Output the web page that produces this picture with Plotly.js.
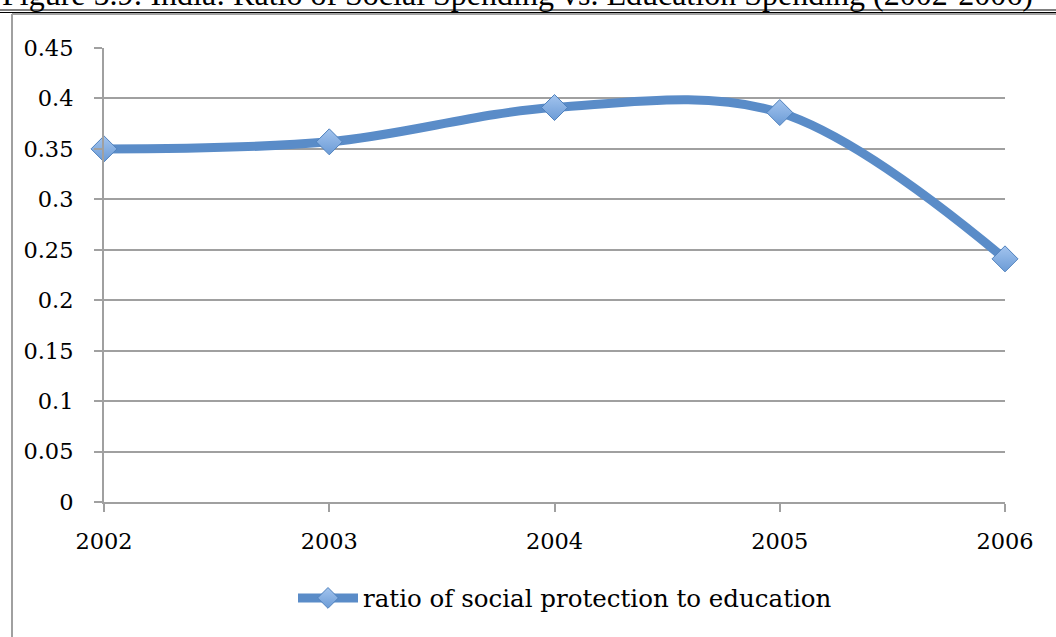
<!DOCTYPE html>
<html>
<head>
<meta charset="utf-8">
<script src="https://cdn.plot.ly/plotly-3.0.1.min.js"></script>
<style>
html,body{margin:0;padding:0;background:#fff;}
#chart{width:1056px;height:637px;}
</style>
</head>
<body>
<div id="chart"></div>
<script>
const years = [2002, 2003, 2004, 2005, 2006];
const ratio = [0.35, 0.357, 0.391, 0.386, 0.241];
const yTickVals = [0, 0.05, 0.1, 0.15, 0.2, 0.25, 0.3, 0.35, 0.4, 0.45];
const yTickText = ['0', '0.05', '0.1', '0.15', '0.2', '0.25', '0.3', '0.35', '0.4', '0.45'];
const seriesName = 'ratio of social protection to education';
const titleText = 'Figure 5.9: India: Ratio of Social Spending vs. Education Spending (2002-2006)';

const W = 1056, H = 637;
const L = 104, R = 51, T = 48, B = 135;
const pw = W - L - R, ph = H - T - B;
const px = x => (x - L) / pw;
const py = y => (H - B - y) / ph;

const tickFont = {family: 'DejaVu Serif, serif', size: 22.5, color: '#000'};
const legendFont = {family: 'DejaVu Serif, serif', size: 24.5, color: '#000'};
const grey = '#a0a0a0';

const trace = {
  x: years,
  y: ratio,
  name: seriesName,
  type: 'scatter',
  mode: 'lines+markers',
  line: {color: '#5a8cc8', width: 9, shape: 'spline', smoothing: 1},
  marker: {
    symbol: 'diamond',
    size: 20,
    color: '#a3c4ee',
    gradient: {type: 'vertical', color: '#6b9bd6'},
    line: {color: '#4f81bd', width: 1}
  },
  cliponaxis: false,
  hoverinfo: 'skip'
};

const layout = {
  width: W, height: H,
  margin: {l: L, r: R, t: T, b: B, pad: 0},
  paper_bgcolor: '#fff',
  plot_bgcolor: '#fff',
  showlegend: true,
  legend: {
    orientation: 'h',
    x: px(293), xanchor: 'left',
    y: py(598), yanchor: 'middle',
    font: legendFont,
    itemwidth: 60,
    bgcolor: 'rgba(0,0,0,0)'
  },
  xaxis: {
    type: 'linear',
    range: [2002, 2006],
    tickvals: years,
    ticktext: years.map(String),
    showgrid: false,
    zeroline: false,
    showline: true,
    linecolor: grey,
    linewidth: 2,
    ticks: 'outside',
    ticklen: 8,
    tickwidth: 2,
    tickcolor: grey,
    ticklabelstandoff: 10,
    tickfont: tickFont,
    fixedrange: true
  },
  yaxis: {
    range: [0, 0.45],
    tickvals: yTickVals,
    ticktext: yTickText,
    showgrid: true,
    gridcolor: grey,
    gridwidth: 2,
    zeroline: false,
    showline: true,
    linecolor: grey,
    linewidth: 2,
    ticks: 'outside',
    ticklen: 8,
    tickwidth: 2,
    tickcolor: grey,
    ticklabelstandoff: 16,
    tickfont: tickFont,
    fixedrange: true
  },
  shapes: [
    {type: 'line', xref: 'paper', yref: 'paper', x0: px(12), x1: px(12), y0: py(14), y1: py(660), line: {color: grey, width: 2}},
    {type: 'line', xref: 'paper', yref: 'paper', x0: px(12), x1: px(1070), y0: py(14), y1: py(14), line: {color: grey, width: 2}},
    {type: 'line', xref: 'paper', yref: 'paper', x0: px(0), x1: px(1070), y0: py(10), y1: py(10), line: {color: '#000', width: 1}},
    {type: 'line', xref: 'paper', yref: 'paper', x0: px(0), x1: px(1070), y0: py(12.5), y1: py(12.5), line: {color: '#000', width: 1}}
  ],
  annotations: [
    {
      text: titleText,
      xref: 'paper', yref: 'paper',
      x: px(1), xanchor: 'left',
      y: py(13), yanchor: 'bottom',
      showarrow: false,
      font: {family: 'Liberation Serif, Times New Roman, serif', size: 32, color: '#000'},
      borderpad: 0
    }
  ]
};

Plotly.newPlot('chart', [trace], layout, {displayModeBar: false, staticPlot: true});
</script>
</body>
</html>
